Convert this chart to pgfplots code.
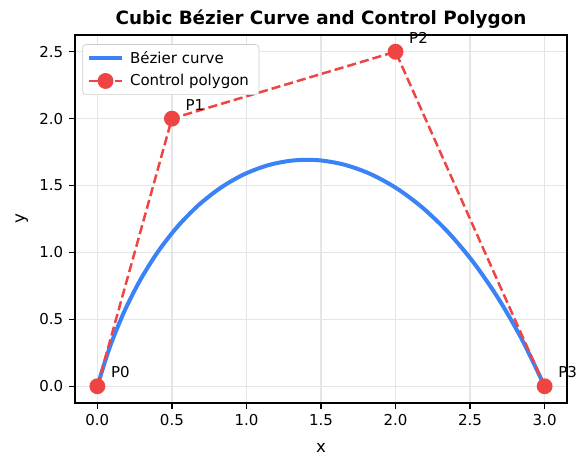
\documentclass[border=0pt]{standalone}
\usepackage{pgfplots}
\pgfplotsset{compat=1.18}
\usepackage{fontspec}
\setmainfont{DejaVu Sans}
\definecolor{cblue}{HTML}{3B82F6}
\definecolor{cred}{HTML}{EF4444}
\begin{document}
\begin{tikzpicture}
\useasboundingbox (-45pt,-39.6pt) rectangle (307.8pt,241.8pt);
\begin{axis}[
  scale only axis, width=295.2pt, height=220.8pt,
  xmin=-0.15, xmax=3.15, ymin=-0.125, ymax=2.625,
  xtick={0,0.5,...,3}, ytick={0,0.5,...,2.5},
  xticklabel style={/pgf/number format/.cd,fixed,fixed zerofill,precision=1},
  yticklabel style={/pgf/number format/.cd,fixed,fixed zerofill,precision=1},
  /pgf/number format/assume math mode=true,
  tick label style={font=\fontsize{9}{11}\selectfont},
  tick align=outside, tick pos=left, major tick length=3.5pt,
  every tick/.style={black, line width=0.8pt},
  axis line style={line width=0.8pt},
  grid=major, major grid style={line width=0.8pt, black!10},
  xlabel={x}, ylabel={y},
  xlabel style={yshift=-3.5pt},
  label style={font=\fontsize{10}{12}\selectfont},
  title={\bfseries Cubic Bézier Curve and Control Polygon},
  title style={font=\fontsize{11}{13}\selectfont, yshift=-5.5pt},
  clip=false,
  legend style={font=\fontsize{9}{11}\selectfont, draw=black!20, rounded corners=2pt, fill=white, at={(0.015,0.975)}, anchor=north west, row sep=1pt, inner xsep=2.5pt, inner ysep=2pt, nodes={inner xsep=3.5pt}},
  legend cell align=left,
  legend image code/.code={\draw[#1] (0pt,0pt) -- (20pt,0pt); \path[#1, solid] plot coordinates {(10pt,0pt)};},
]
\addplot[cblue, line width=2.4pt, smooth, no marks] coordinates {
(0,0) (0.0823,0.2886) (0.1785,0.5535) (0.2874,0.7937) (0.408,1.008)
(0.5391,1.1953) (0.6795,1.3545) (0.8282,1.4844) (0.984,1.584) (1.1458,1.6521)
(1.3125,1.6875) (1.4829,1.6892) (1.656,1.656) (1.8306,1.5868) (2.0055,1.4805)
(2.1797,1.3359) (2.352,1.152) (2.5213,0.9276) (2.6865,0.6615) (2.8464,0.3527) (3,0)
};
\addlegendentry{Bézier curve}
\addplot[cred, line width=1.5pt, dash pattern=on 5.5pt off 2.4pt, mark=*, mark size=4pt, mark options={solid, fill=cred, draw=cred}] coordinates {
(0,0) (0.5,2) (2,2.5) (3,0)
};
\addlegendentry{Control polygon}
\node[anchor=base west, inner sep=0pt, xshift=8pt, yshift=5pt, font=\fontsize{9}{11}\selectfont] at (axis cs:0,0) {P0};
\node[anchor=base west, inner sep=0pt, xshift=8pt, yshift=5pt, font=\fontsize{9}{11}\selectfont] at (axis cs:0.5,2) {P1};
\node[anchor=base west, inner sep=0pt, xshift=8pt, yshift=5pt, font=\fontsize{9}{11}\selectfont] at (axis cs:2,2.5) {P2};
\node[anchor=base west, inner sep=0pt, xshift=8pt, yshift=5pt, font=\fontsize{9}{11}\selectfont] at (axis cs:3,0) {P3};
\end{axis}
\end{tikzpicture}
\end{document}
